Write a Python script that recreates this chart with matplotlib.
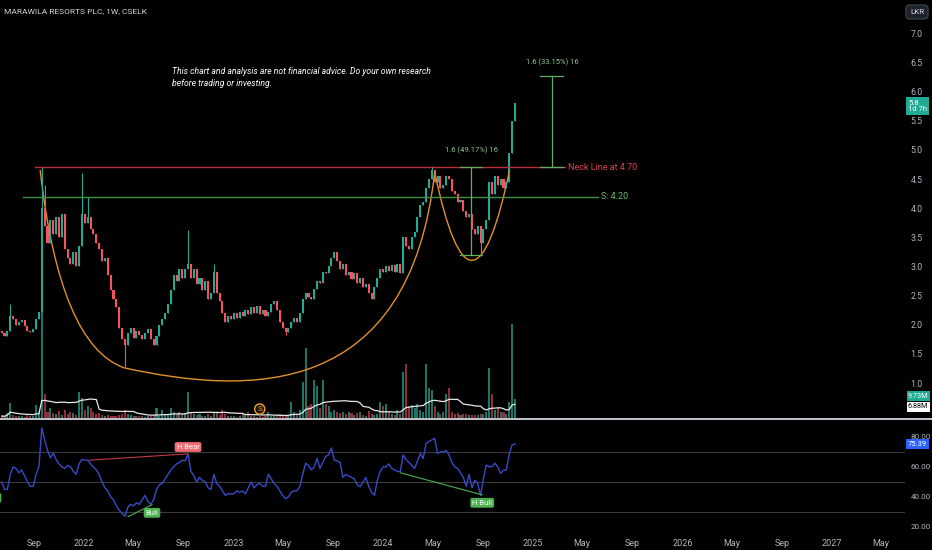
import numpy as np
import pandas as pd
import matplotlib
matplotlib.use('Agg')
import matplotlib.pyplot as plt
import matplotlib.dates as mdates
from matplotlib.lines import Line2D
from matplotlib.path import Path
from matplotlib.patches import PathPatch

plt.rcParams['font.family'] = ['Roboto', 'DejaVu Sans']

# weekly candles, MARAWILA RESORTS PLC (CSELK), 1W
weeks = pd.date_range('2021-06-14', periods=180, freq='7D')

closes = [
    1.85, 1.80, 1.90, 2.15, 2.10, 2.00, 2.05, 2.08, 1.98, 1.90,
    1.88, 1.92, 2.10, 2.22, 4.00, 3.70, 3.40, 3.80, 3.55, 3.85,
    3.50, 3.90, 3.30, 3.15, 3.05, 3.25, 3.00, 3.35, 3.90, 3.75,
    3.85, 3.65, 3.55, 3.40, 3.30, 3.10, 3.15, 2.85, 2.60, 2.45,
    2.30, 1.95, 1.75, 1.65, 1.85, 1.95, 1.78, 1.90, 1.82, 1.75,
    1.85, 1.92, 1.75, 1.65, 1.80, 2.00, 2.10, 2.20, 2.35, 2.60,
    2.85, 2.75, 2.95, 2.80, 2.95, 3.05, 2.80, 2.95, 2.70, 2.80,
    2.60, 2.75, 2.45, 2.55, 2.90, 2.55, 2.40, 2.20, 2.05, 2.15,
    2.10, 2.20, 2.12, 2.22, 2.15, 2.25, 2.18, 2.30, 2.20, 2.32,
    2.18, 2.25, 2.15, 2.22, 2.35, 2.40, 2.25, 2.05, 1.95, 1.88,
    1.95, 2.05, 2.12, 2.05, 2.20, 2.45, 2.55, 2.48, 2.45, 2.62,
    2.75, 2.72, 2.90, 2.88, 3.00, 3.15, 3.25, 3.10, 2.95, 3.05,
    2.85, 2.90, 2.78, 2.88, 2.72, 2.80, 2.65, 2.70, 2.55, 2.45,
    2.65, 2.80, 2.95, 2.90, 3.00, 2.92, 3.02, 2.90, 3.05, 2.88,
    3.50, 3.35, 3.30, 3.50, 3.60, 3.85, 4.05, 4.10, 4.35, 4.50,
    4.65, 4.45, 4.55, 4.35, 4.40, 4.55, 4.50, 4.30, 4.25, 4.10,
    4.15, 3.95, 3.85, 3.90, 3.65, 3.55, 3.70, 3.40, 3.65, 3.80,
    4.45, 4.25, 4.55, 4.40, 4.50, 4.35, 4.45, 4.95, 5.50, 5.80,
]
first_open = 1.90
spike_idx = [3, 14, 15, 28, 30, 65, 74, 150]
spike_high = [2.35, 4.70, 4.40, 4.60, 4.20, 3.63, 3.05, 4.72]
dip_idx = [43, 99, 167]
dip_low = [1.28, 1.82, 3.20]

# volume in millions
volume = [
    1.0, 0.8, 2.5, 7.5, 1.5, 1.2, 0.8, 1.0, 0.6, 1.5,
    0.8, 1.0, 6.5, 3.0, 100, 12, 3.0, 5.0, 2.5, 2.0,
    3.5, 1.5, 4.0, 2.0, 3.0, 2.5, 1.5, 13, 10, 4.0,
    6.0, 5.0, 3.0, 2.0, 2.5, 1.5, 1.0, 1.5, 1.0, 0.8,
    1.2, 1.5, 2.0, 4.0, 2.0, 1.5, 1.0, 0.8, 1.2, 1.0,
    0.6, 0.8, 1.0, 1.5, 5.0, 1.0, 4.0, 2.0, 1.5, 5.0,
    3.0, 2.0, 3.0, 2.0, 2.5, 13, 3.0, 2.0, 1.5, 2.0,
    1.0, 0.8, 2.0, 1.0, 3.0, 2.5, 1.5, 4.0, 2.0, 0.8,
    1.0, 1.2, 0.6, 1.0, 2.0, 1.5, 3.0, 1.0, 0.8, 0.5,
    1.0, 0.7, 1.2, 3.0, 1.0, 0.8, 1.5, 2.0, 1.2, 0.8,
    1.5, 8.0, 3.0, 2.0, 4.0, 18, 35, 6.0, 7.0, 19,
    16, 5.0, 19, 7.0, 6.0, 3.0, 4.0, 3.0, 2.5, 3.0,
    2.0, 3.0, 2.5, 1.5, 2.5, 3.0, 1.5, 1.0, 3.5, 2.0,
    1.5, 2.0, 8.0, 6.0, 7.0, 3.0, 2.0, 1.5, 4.0, 2.0,
    23, 27, 6.0, 6.5, 5.0, 7.0, 4.0, 3.0, 27, 15,
    14, 6.0, 3.0, 2.0, 3.0, 12, 15, 3.0, 2.0, 2.5,
    1.5, 2.0, 2.0, 1.5, 1.5, 1.5, 1.5, 2.0, 2.0, 3.0,
    25, 12, 4.0, 5.0, 3.0, 3.0, 2.0, 8.0, 47, 9.73,
]

rsi = [
    50, 45, 45, 55, 60, 59, 56, 58, 54, 50,
    47, 47, 55, 60, 86, 78, 71, 66, 69, 65,
    62, 60, 59, 61, 60, 57, 55, 62, 65, 64.5,
    64.5, 62, 60, 58, 55, 50, 46, 44, 40, 38,
    34, 31, 29, 27, 33, 35, 34, 36, 35, 38,
    41, 37, 35, 38, 45, 48, 49, 52, 55, 58,
    60, 62, 63, 64.5, 64, 68.7, 57, 54, 50, 53,
    51, 50, 46, 45, 55, 49, 47, 44, 41, 42,
    42, 42, 44, 43, 44, 42, 46, 50, 46, 48,
    49, 47, 47, 55, 52, 49, 47, 44, 41, 38.7,
    40, 43, 44, 44, 47, 55, 62.5, 61, 58, 60,
    65.6, 59, 63, 67, 68, 72.7, 64.5, 64, 63, 53,
    55, 54, 53, 52, 48, 46.7, 50, 53, 47, 43,
    41, 51, 57, 60, 60, 62, 59, 58, 57, 56.7,
    68, 65, 63, 61, 59, 64, 69, 65.6, 75.8, 77,
    78, 79, 69, 70, 70, 71, 68, 63, 60, 59,
    56, 53, 47, 55, 46, 51, 49, 41, 52, 61.3,
    60, 60.2, 62.4, 60, 55.6, 57.8, 58, 68.6, 74.7, 75.39,
]

# cup & handle arcs: start, control(s), end as (date, price)
cup_left = [('2021-09-16', 4.66), ('2021-11-03', 1.65), ('2022-04-09', 1.26)]
cup_base = [('2022-04-09', 1.26), ('2023-02-10', 0.79), ('2024-03-06', 0.71), ('2024-05-06', 4.62)]
handle = [('2024-05-06', 4.62), ('2024-08-05', 1.57), ('2024-11-05', 4.66)]

neck = 4.70
support = 4.20
target_top = 6.27
handle_low = 3.20

up_c, dn_c = '#22ab94', '#f7525f'
bg = '#000000'
txt = '#b2b5be'

fig = plt.figure(figsize=(9.32, 5.5), dpi=100, facecolor=bg)
W, H = 932, 550
def fx(px):
    return px / W
def fy(py):
    return 1 - py / H

ax = fig.add_axes([0, fy(419), fx(905), 419 / H])
ax_r = fig.add_axes([0, fy(532), fx(905), 113 / H], sharex=ax)
ax_v = ax.twinx()
ax.set_zorder(ax_v.get_zorder() + 1)
ax.patch.set_visible(False)
ax_v.set_facecolor(bg)
ax_r.set_facecolor(bg)

opens = [first_open] + closes[:-1]
highs = [max(o, c) for o, c in zip(opens, closes)]
lows = [min(o, c) for o, c in zip(opens, closes)]
for i, h in zip(spike_idx, spike_high):
    highs[i] = h
for i, l in zip(dip_idx, dip_low):
    lows[i] = l
cols = [up_c if c >= o else dn_c for o, c in zip(opens, closes)]

ax.vlines(weeks, lows, highs, colors=cols, lw=0.8)
bodies = [max(abs(c - o), 0.02) for o, c in zip(opens, closes)]
ax.bar(weeks, bodies, bottom=[min(o, c) for o, c in zip(opens, closes)],
       width=5, color=cols, linewidth=0)

# volume + 20 sma
vcols = ['#1b7466' if c == up_c else '#8e2d38' for c in cols]
ax_v.bar(weeks, volume, width=5, color=vcols, linewidth=0)
vma = pd.Series(volume).rolling(20, min_periods=1).mean()
ax_v.plot(weeks, vma, color='#e8e8e8', lw=0.9)
ax_v.set_ylim(-0.5, 209)
ax_v.set_yticks([])

# drawings
def arc(points):
    verts = [(mdates.date2num(pd.Timestamp(d)), p) for d, p in points]
    code = Path.CURVE3 if len(points) == 3 else Path.CURVE4
    codes = [Path.MOVETO] + [code] * (len(points) - 1)
    return PathPatch(Path(verts, codes), fill=False, ec='#e3902a', lw=1.0)

for pts in (cup_left, cup_base, handle):
    ax.add_patch(arc(pts))

ax.plot(pd.to_datetime(['2021-09-04', '2025-03-20']), [neck, neck], color='#b7313d', lw=1.0)
ax.text(pd.Timestamp('2025-03-28'), neck, 'Neck Line at 4.70', color='#e0414f',
        fontsize=6.5, va='center', ha='left')
ax.plot(pd.to_datetime(['2021-08-05', '2025-06-09']), [support, support], color='#3f8f45', lw=1.0)
ax.text(pd.Timestamp('2025-06-16'), support, 'S: 4.20', color='#66bb6a',
        fontsize=6.5, va='center', ha='left')

mc = '#5fae62'
m1 = pd.Timestamp('2024-08-03')
ax.plot([m1, m1], [handle_low, neck], color=mc, lw=0.9)
ax.plot(pd.to_datetime(['2024-07-07', '2024-08-30']), [neck, neck], color=mc, lw=0.9)
ax.plot(pd.to_datetime(['2024-07-07', '2024-08-30']), [handle_low, handle_low], color=mc, lw=0.9)
ax.text(m1, 5.0, '1.6 (49.17%) 16', color='#8bc48d', fontsize=5.5, ha='center', va='center')
m2 = pd.Timestamp('2025-02-16')
ax.plot([m2, m2], [neck, target_top], color=mc, lw=0.9)
ax.plot(pd.to_datetime(['2025-01-18', '2025-03-15']), [target_top, target_top], color=mc, lw=0.9)
ax.plot(pd.to_datetime(['2025-01-18', '2025-03-15']), [neck, neck], color=mc, lw=0.9)
ax.text(m2, 6.51, '1.6 (33.15%) 16', color='#8bc48d', fontsize=5.5, ha='center', va='center')

# split marker
ax.text(pd.Timestamp('2023-03-06'), 0.553, 'S', color='#f0a030', fontsize=6,
        ha='center', va='center',
        bbox=dict(boxstyle='circle,pad=0.25', fc='#1a1000', ec='#f0a030', lw=1.0))

x0 = pd.Timestamp('2022-01-01')
ax.set_xlim(x0 - pd.Timedelta(days=205), x0 + pd.Timedelta(days=2004))
ax.set_ylim(0.382, 7.575)
ax.set_yticks(np.arange(1.0, 7.01, 0.5))
ax.set_yticklabels([f'{v:.1f}' for v in np.arange(1.0, 7.01, 0.5)])
ax.yaxis.tick_right()
ax.tick_params(axis='y', length=0, pad=4, labelsize=6.3, labelcolor=txt)
ax.tick_params(axis='x', bottom=False, labelbottom=False)

# RSI pane
for lv in [70, 50, 30]:
    ax_r.axhline(lv, color='#3a3a3a', lw=0.8)
ax_r.plot(weeks, rsi, color='#3949c7', lw=1.0)
ax_r.plot(pd.to_datetime(['2022-01-15', '2022-09-12']), [64.5, 68.7], color='#c0393f', lw=0.8)
ax_r.plot(pd.to_datetime(['2022-04-18', '2022-06-16']), [26.7, 34.7], color='#4caf50', lw=0.8)
ax_r.plot(pd.to_datetime(['2024-02-13', '2024-08-30']), [56, 41.3], color='#4caf50', lw=0.8)
lab = dict(fontsize=5.5, color='white', ha='center', va='center')
ax_r.text(pd.Timestamp('2022-09-12'), 73.3, 'H Bear', **lab,
          bbox=dict(boxstyle='round,pad=0.25', fc='#f26b73', ec='none'))
ax_r.text(pd.Timestamp('2022-06-16'), 29.3, 'Bull', **lab,
          bbox=dict(boxstyle='round,pad=0.25', fc='#4caf50', ec='none'))
ax_r.text(pd.Timestamp('2024-08-30'), 36.0, 'H Bull', **lab,
          bbox=dict(boxstyle='round,pad=0.25', fc='#4caf50', ec='none'))
ax_r.text(pd.Timestamp('2021-05-24'), 39.3, 'Bull', clip_on=True, **lab,
          bbox=dict(boxstyle='round,pad=0.25', fc='#4caf50', ec='none'))
ax_r.set_ylim(16.5, 92)
ax_r.set_yticks([20, 40, 60, 80])
ax_r.set_yticklabels(['20.00', '40.00', '60.00', '80.00'])
ax_r.yaxis.tick_right()
ax_r.tick_params(axis='y', length=0, pad=4, labelsize=5.8, labelcolor=txt)

tick_dates = pd.to_datetime(['2021-09-01', '2022-01-01', '2022-05-01', '2022-09-01',
                             '2023-01-01', '2023-05-01', '2023-09-01', '2024-01-01',
                             '2024-05-01', '2024-09-01', '2025-01-01', '2025-05-01',
                             '2025-09-01', '2026-01-01', '2026-05-01', '2026-09-01',
                             '2027-01-01', '2027-05-01'])
tick_labels = [d.strftime('%Y') if d.month == 1 else d.strftime('%b') for d in tick_dates]
ax_r.set_xticks(tick_dates)
ax_r.set_xticklabels(tick_labels)
ax_r.tick_params(axis='x', length=0, pad=5, labelsize=6.5, labelcolor=txt)

for a in (ax, ax_v, ax_r):
    for s in a.spines.values():
        s.set_visible(False)

# pane separator
fig.add_artist(Line2D([0, 1], [fy(419), fy(419)], transform=fig.transFigure,
                      color='#d1d4dc', lw=1.3))

# header and note
fig.text(fx(4), fy(11), 'MARAWILA RESORTS PLC, 1W, CSELK', fontsize=6, color='#d1d4dc', va='center')
fig.text(fx(172), fy(72), 'This chart and analysis are not financial advice. Do your own research',
         fontsize=6.2, color='white', style='italic', va='center')
fig.text(fx(172), fy(83), 'before trading or investing.',
         fontsize=6.2, color='white', style='italic', va='center')

# price scale badges
fig.text(fx(917), fy(12), 'LKR', ha='center', va='center', fontsize=5.8, color='#d1d4dc',
         bbox=dict(boxstyle='round,pad=0.5', fc='#1e222d', ec='#434651', lw=0.8))
fig.text(fx(908), fy(106), '5.8\n1d 7h', ha='left', va='center', fontsize=5.6, color='white',
         linespacing=1.1, bbox=dict(boxstyle='square,pad=0.3', fc=up_c, ec='none'))
fig.text(fx(908), fy(396), '9.73M', ha='left', va='center', fontsize=5.2, color='white',
         bbox=dict(boxstyle='square,pad=0.2', fc=up_c, ec='none'))
fig.text(fx(908), fy(407), '6.88M', ha='left', va='center', fontsize=5.2, color='black',
         bbox=dict(boxstyle='square,pad=0.2', fc='white', ec='none'))
fig.text(fx(908), fy(444), '75.39', ha='left', va='center', fontsize=5.5, color='white',
         bbox=dict(boxstyle='square,pad=0.2', fc='#2962ff', ec='none'))

fig.savefig('out.png', dpi=100, facecolor=bg)
